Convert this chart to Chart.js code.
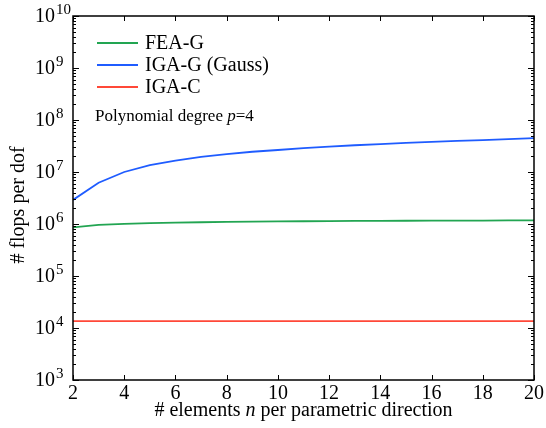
<!DOCTYPE html>
<html>
<head>
<meta charset="utf-8">
<script src="https://cdn.jsdelivr.net/npm/chart.js@4/dist/chart.umd.min.js"></script>
<style>
  html, body { margin: 0; padding: 0; background: #fff; }
  #wrap { width: 546px; height: 428px; }
</style>
</head>
<body>
<div id="wrap"><canvas id="chart" width="546" height="428"></canvas></div>
<script>
// elements per parametric direction
const nValues = [2, 3, 4, 5, 6, 7, 8, 9, 10, 11, 12, 13, 14, 15, 16, 17, 18, 19, 20];

// flops per dof for each method
const feaG = [8.6e5, 9.6e5, 1.01e6, 1.04e6, 1.06e6, 1.08e6, 1.10e6, 1.11e6, 1.12e6, 1.13e6,
              1.14e6, 1.145e6, 1.15e6, 1.155e6, 1.16e6, 1.16e6, 1.165e6, 1.17e6, 1.17e6];
const igaG = [2.9e6, 6.2e6, 1.0e7, 1.36e7, 1.66e7, 1.95e7, 2.2e7, 2.45e7, 2.65e7, 2.87e7,
              3.07e7, 3.27e7, 3.45e7, 3.62e7, 3.8e7, 3.97e7, 4.12e7, 4.3e7, 4.5e7];
const igaC = [1.36e4, 1.36e4, 1.36e4, 1.36e4, 1.36e4, 1.36e4, 1.36e4, 1.36e4, 1.36e4, 1.36e4,
              1.36e4, 1.36e4, 1.36e4, 1.36e4, 1.36e4, 1.36e4, 1.36e4, 1.36e4, 1.36e4];

const seriesNames = ['FEA-G', 'IGA-G (Gauss)', 'IGA-C'];
const seriesColors = ['#22a552', '#1f5cff', '#ff4838'];

const xTicks = [2, 4, 6, 8, 10, 12, 14, 16, 18, 20];
const yExponents = [3, 4, 5, 6, 7, 8, 9, 10];

const SERIF = '"Liberation Serif", "Times New Roman", serif';

function pts(vals) {
  return nValues.map((n, i) => ({ x: n, y: vals[i] }));
}

// frame, inward ticks, log labels, titles and legend
const decorations = {
  id: 'decorations',
  afterDraw(chart) {
    const ctx = chart.ctx;
    const area = chart.chartArea;
    const xs = chart.scales.x;
    const ys = chart.scales.y;
    ctx.save();
    ctx.strokeStyle = '#000';
    ctx.fillStyle = '#000';

    // y ticks on both sides
    ctx.lineWidth = 1;
    ys.ticks.forEach(t => {
      const py = Math.round(ys.getPixelForValue(t.value)) + 0.5;
      const len = t.major ? 6 : 3;
      ctx.beginPath();
      ctx.moveTo(area.left, py); ctx.lineTo(area.left + len, py);
      ctx.moveTo(area.right, py); ctx.lineTo(area.right - len, py);
      ctx.stroke();
    });
    // x ticks top and bottom
    xTicks.forEach(v => {
      const px = Math.round(xs.getPixelForValue(v)) + 0.5;
      ctx.beginPath();
      ctx.moveTo(px, area.bottom); ctx.lineTo(px, area.bottom - 5);
      ctx.moveTo(px, area.top); ctx.lineTo(px, area.top + 5);
      ctx.stroke();
    });

    // frame
    ctx.lineWidth = 1.5;
    ctx.strokeRect(area.left, area.top, area.right - area.left, area.bottom - area.top);

    // y labels as 10 with superscript exponent
    ctx.textBaseline = 'middle';
    ctx.textAlign = 'left';
    yExponents.forEach(e => {
      const py = ys.getPixelForValue(Math.pow(10, e));
      ctx.font = '20px ' + SERIF;
      ctx.fillText('10', 35, py + 1);
      const w = ctx.measureText('10').width;
      ctx.font = '15px ' + SERIF;
      ctx.fillText(String(e), 35 + w + 1, py - 6);
    });

    // x title with italic n
    const xParts = [['# elements ', ''], ['n', 'italic '], [' per parametric direction', '']];
    let total = 0;
    xParts.forEach(p => { ctx.font = p[1] + '20px ' + SERIF; total += ctx.measureText(p[0]).width; });
    let cx = (area.left + area.right) / 2 - total / 2;
    ctx.textBaseline = 'alphabetic';
    xParts.forEach(p => {
      ctx.font = p[1] + '20px ' + SERIF;
      ctx.fillText(p[0], cx, 416);
      cx += ctx.measureText(p[0]).width;
    });

    // y title
    ctx.save();
    ctx.translate(24, 205);
    ctx.rotate(-Math.PI / 2);
    ctx.textAlign = 'center';
    ctx.font = '20px ' + SERIF;
    ctx.fillText('# flops per dof', 0, 0);
    ctx.restore();

    // legend
    ctx.textAlign = 'left';
    ctx.textBaseline = 'middle';
    chart.data.datasets.forEach((ds, i) => {
      const ly = 43 + i * 22;
      ctx.strokeStyle = ds.borderColor;
      ctx.lineWidth = 2;
      ctx.beginPath();
      ctx.moveTo(97, ly); ctx.lineTo(138, ly);
      ctx.stroke();
      ctx.font = '20px ' + SERIF;
      ctx.fillText(ds.label, 145, ly + 1);
    });

    // annotation with italic p
    const aParts = [['Polynomial degree ', ''], ['p', 'italic '], ['=4', '']];
    let ax = 95;
    ctx.textBaseline = 'alphabetic';
    aParts.forEach(p => {
      ctx.font = p[1] + '17px ' + SERIF;
      ctx.fillText(p[0], ax, 121);
      ax += ctx.measureText(p[0]).width;
    });
    ctx.restore();
  }
};

new Chart(document.getElementById('chart'), {
  type: 'line',
  data: {
    datasets: [
      { label: seriesNames[0], data: pts(feaG), borderColor: seriesColors[0] },
      { label: seriesNames[1], data: pts(igaG), borderColor: seriesColors[1] },
      { label: seriesNames[2], data: pts(igaC), borderColor: seriesColors[2] }
    ].map(d => Object.assign(d, { borderWidth: 1.8, pointRadius: 0, fill: false, tension: 0 }))
  },
  options: {
    responsive: false,
    animation: false,
    layout: { padding: { top: 16, right: 11, left: 0, bottom: 0 } },
    plugins: { legend: { display: false }, tooltip: { enabled: false } },
    scales: {
      x: {
        type: 'linear',
        min: 2, max: 20,
        afterFit(scale) { scale.height = 48; },
        afterBuildTicks(scale) { scale.ticks = xTicks.map(v => ({ value: v })); },
        grid: { display: false, drawTicks: false },
        border: { display: false },
        ticks: {
          color: '#000',
          padding: 2,
          maxRotation: 0,
          font: { family: SERIF, size: 20 }
        }
      },
      y: {
        type: 'logarithmic',
        min: 1e3, max: 1e10,
        afterFit(scale) { scale.width = 73; },
        afterBuildTicks(scale) {
          const list = [];
          for (let e = 3; e <= 10; e++) {
            for (let m = 1; m <= 9; m++) {
              const v = m * Math.pow(10, e);
              if (v > 1e10) break;
              list.push({ value: v, major: m === 1 });
            }
          }
          scale.ticks = list;
        },
        grid: { display: false, drawTicks: false },
        border: { display: false },
        ticks: { display: false }
      }
    }
  },
  plugins: [decorations]
});
</script>
</body>
</html>
